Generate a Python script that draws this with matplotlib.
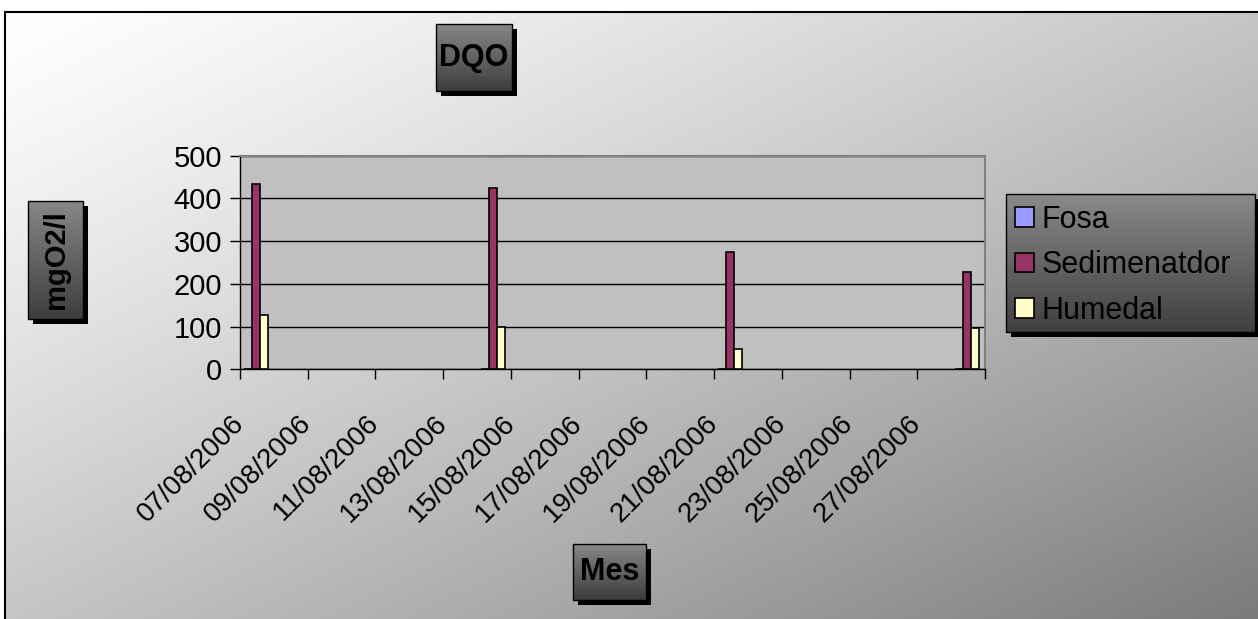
import numpy as np
import pandas as pd
import matplotlib
matplotlib.use("Agg")
import matplotlib.pyplot as plt
import matplotlib.dates as mdates
from matplotlib.patches import Rectangle

plt.rcParams['font.family'] = ['Liberation Sans', 'DejaVu Sans']

# data
fechas = ['07/08/2006', '14/08/2006', '21/08/2006', '28/08/2006']
series = ['Fosa', 'Sedimenatdor', 'Humedal']
fosa = [0, 0, 0, 0]
sedimentador = [433, 424, 274, 227]
humedal = [127, 100, 47, 96]
colores = ['#9999FF', '#993366', '#FFFFCC']
y_ticks = [0, 100, 200, 300, 400, 500]

W, H = 1258, 619
fig = plt.figure(figsize=(W / 100, H / 100), dpi=100)

# background axes in pixel coords (y down)
bg = fig.add_axes([0, 0, 1, 1], zorder=-10)
bg.set_xlim(0, W)
bg.set_ylim(H, 0)
bg.axis('off')

# diagonal gradient of chart area
gx = np.linspace(0, 1, 300)
gy = np.linspace(0, 1, 150)
U, V = np.meshgrid(gx, gy)
t = ((U + V) / 2) ** 1.2
val = (255 - 132 * t) / 255
bg.imshow(np.dstack([val, val, val]), extent=(5, W, H, 12), aspect='auto',
          interpolation='bilinear')
bg.plot([5, W], [12, 12], color='black', lw=1.5)
bg.plot([5, 5], [12, H], color='black', lw=1.5)


def caja(x0, y0, x1, y1, top=0.53, bot=0.24):
    bg.add_patch(Rectangle((x0 + 5, y0 + 5), x1 - x0, y1 - y0,
                           facecolor='black', edgecolor='none', zorder=2))
    g = np.linspace(top, bot, 64).reshape(-1, 1)
    bg.imshow(np.dstack([g, g, g]), extent=(x0, x1, y1, y0), aspect='auto',
              interpolation='bilinear', zorder=3)
    bg.add_patch(Rectangle((x0, y0), x1 - x0, y1 - y0, facecolor='none',
                           edgecolor='black', lw=1, zorder=4))


caja(436, 24, 512, 91)
bg.text(474, 58, 'DQO', fontsize=22, fontweight='bold', ha='center', va='center',
        zorder=5)
caja(28, 201, 83, 319)
bg.text(56, 260, 'mgO2/l', fontsize=21, fontweight='bold', ha='center', va='center',
        rotation=90, zorder=5)
caja(573, 544, 646, 600)
bg.text(609.5, 572, 'Mes', fontsize=22, fontweight='bold', ha='center', va='center',
        zorder=5)
caja(1006, 194, 1255, 332, top=0.54, bot=0.25)
bg.set_xlim(0, W)
bg.set_ylim(H, 0)

# main plot
ax = fig.add_axes([240 / W, 1 - 369.3 / H, 745 / W, 213.6 / H])
ax.set_facecolor('#C0C0C0')

x = mdates.date2num(pd.to_datetime(fechas, dayfirst=True))
x0 = mdates.date2num(pd.to_datetime('07/08/2006', dayfirst=True))
ancho = 0.236
for i, (nombre, vals) in enumerate(zip(series, [fosa, sedimentador, humedal])):
    ax.bar(x + 0.472 + (i - 1) * ancho, vals, width=ancho, color=colores[i],
           edgecolor='black', linewidth=1.2, label=nombre, zorder=3)

ax.set_xlim(x0, x0 + 22)
ax.set_ylim(0, 500)
ax.set_yticks(y_ticks)
ax.yaxis.grid(True, color='black', lw=1, zorder=1)
ax.set_axisbelow(True)

xt = np.arange(x0, x0 + 23, 2)
ax.set_xticks(xt)
etiquetas = [mdates.num2date(v).strftime('%d/%m/%Y') for v in xt[:-1]] + ['']
ax.set_xticklabels(etiquetas, rotation=45, ha='right', va='center',
                   rotation_mode='anchor', fontsize=20)
ax.tick_params(axis='x', length=7, width=1, pad=29)
ax.tick_params(axis='y', length=7, width=1, pad=6, labelsize=21)
for s in ['left', 'bottom']:
    ax.spines[s].set_color('black')
    ax.spines[s].set_linewidth(1)
for s in ['top', 'right']:
    ax.spines[s].set_color('#808080')
    ax.spines[s].set_linewidth(1.5)

ax.legend(loc='upper left', bbox_to_anchor=(1015 / W, 1 - 205 / H),
          bbox_transform=fig.transFigure, frameon=False, fontsize=22,
          handlelength=0.62, handleheight=0.62, handletextpad=0.25,
          labelspacing=0.5, borderpad=0, borderaxespad=0)

fig.savefig('out.png', dpi=100)
